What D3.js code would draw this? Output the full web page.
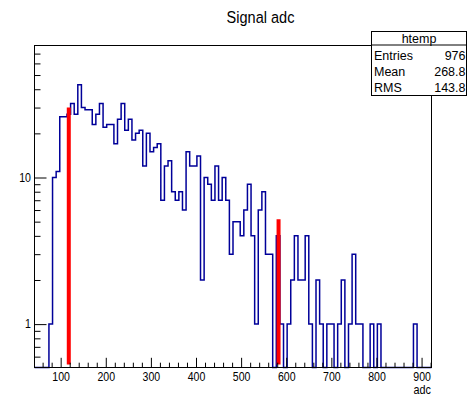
<!DOCTYPE html>
<html>
<head>
<meta charset="utf-8">
<script src="https://cdn.jsdelivr.net/npm/d3@7"></script>
<style>
  body { margin: 0; background: #fff; }
  text { font-family: "Liberation Sans", Arial, Helvetica, sans-serif; }
</style>
</head>
<body>
<svg id="chart" width="467" height="395"></svg>
<script>
// htemp: adc, 110 bins of width 8 starting at 42
const xMin = 42, binWidth = 8;
const counts = [
  0, 0, 0, 0, 1, 10, 11, 26, 26, 27,
  32, 27, 43, 30, 29, 29, 23, 27, 32, 22,
  23, 23, 17, 25, 32, 21, 25, 18, 20, 21,
  12, 20, 15, 16, 17, 7, 12, 13, 8, 7,
  8, 6, 15, 12, 12, 14, 2, 10, 9, 7,
  12, 7, 10, 7, 3, 5, 5, 4, 6, 9,
  4, 1, 6, 8, 3, 3, 0, 4, 1, 0,
  1, 2, 4, 2, 2, 4, 1, 0, 2, 1,
  0, 1, 1, 0, 1, 2, 0, 1, 3, 1,
  1, 0, 0, 1, 0, 1, 0, 0, 0, 0,
  0, 0, 0, 0, 0, 1, 0, 0, 0, 0
];
// red marker lines
const markerX = [118, 583];
const markerTop = [30, 5.2];

const xTicks = [100, 200, 300, 400, 500, 600, 700, 800, 900];
const xMinor = d3.range(60, 921, 20).filter(v => v % 100 != 0);
const yTicks = [1, 10];
const yMinor = [0.6, 0.7, 0.8, 0.9, 2, 3, 4, 5, 6, 7, 8, 9, 20, 30, 40, 50, 60, 70];
const statNames = ["Entries", "Mean", "RMS"];
const statValues = ["976", "268.8", "143.8"];

const svg = d3.select("#chart");
const fLeft = 34.5, fRight = 431.5, fTop = 45.5, fBottom = 367.5;

const x = d3.scaleLinear().domain([42, 922]).range([fLeft, fRight]);
const y = d3.scaleLog().domain([0.506, 79.5]).range([fBottom, fTop]);
const yv = v => v > 0 ? y(v) : fBottom;

// title (root's helvetica is a bit narrower)
svg.append("text")
  .attr("transform", "translate(260.5,23) scale(0.88,1)")
  .attr("text-anchor", "middle")
  .attr("font-size", 16.5)
  .text("Signal adc");

// histogram outline
const pts = counts.flatMap((c, i) => [[xMin + i * binWidth, c], [xMin + (i + 1) * binWidth, c]]);
svg.append("path")
  .attr("d", d3.line().x(d => x(d[0])).y(d => yv(d[1]))(pts))
  .attr("fill", "none")
  .attr("stroke", "#000099")
  .attr("stroke-width", 1.5);

// red markers
svg.selectAll(".marker")
  .data(markerX)
  .enter()
  .append("line")
  .attr("x1", d => x(d)).attr("x2", d => x(d))
  .attr("y1", fBottom - 3)
  .attr("y2", (d, i) => y(markerTop[i]))
  .attr("stroke", "#ff0000")
  .attr("stroke-width", 4);

// axes
svg.append("g").attr("transform", `translate(0,${fBottom})`)
  .call(d3.axisBottom(x).tickValues(xTicks).tickSize(-9.7).tickPadding(5).tickFormat(d3.format("d")));
svg.append("g").attr("transform", `translate(0,${fBottom})`)
  .call(d3.axisBottom(x).tickValues(xMinor).tickSize(-4.8).tickFormat(""));
svg.append("g").attr("transform", `translate(${fLeft},0)`)
  .call(d3.axisLeft(y).tickValues(yTicks).tickSize(-12).tickPadding(4).tickFormat(d3.format("d")));
svg.append("g").attr("transform", `translate(${fLeft},0)`)
  .call(d3.axisLeft(y).tickValues(yMinor).tickSize(-6).tickFormat(""));

svg.selectAll(".domain").remove();
svg.selectAll(".tick line").attr("stroke", "#000");
svg.selectAll(".tick text").attr("font-size", 12).attr("fill", "#000")
  .attr("font-family", '"Liberation Sans", Arial, sans-serif')
  .style("transform", "scaleX(0.88)");

svg.append("text")
  .attr("transform", "translate(431,394) scale(0.9,1)")
  .attr("text-anchor", "end")
  .attr("font-size", 12)
  .text("adc");

// frame
svg.append("rect")
  .attr("x", fLeft).attr("y", fTop)
  .attr("width", fRight - fLeft).attr("height", fBottom - fTop)
  .attr("fill", "none").attr("stroke", "#000").attr("stroke-width", 1);

// stats box
const bx = 371.5, by = 31.5, bw = 95, bh = 64;
svg.append("rect")
  .attr("x", bx).attr("y", by).attr("width", bw).attr("height", bh)
  .attr("fill", "#fff").attr("stroke", "#000");
svg.append("line")
  .attr("x1", bx).attr("x2", bx + bw).attr("y1", 45).attr("y2", 45)
  .attr("stroke", "#000");
svg.append("text")
  .attr("x", bx + bw / 2).attr("y", 42.5)
  .attr("text-anchor", "middle").attr("font-size", 12.5)
  .text("htemp");
statNames.forEach((n, i) => {
  svg.append("text").attr("x", 374).attr("y", 59.5 + i * 16)
    .attr("font-size", 12.5).text(n);
  svg.append("text").attr("x", 465.5).attr("y", 59.5 + i * 16)
    .attr("text-anchor", "end").attr("font-size", 12.5).text(statValues[i]);
});
</script>
</body>
</html>
